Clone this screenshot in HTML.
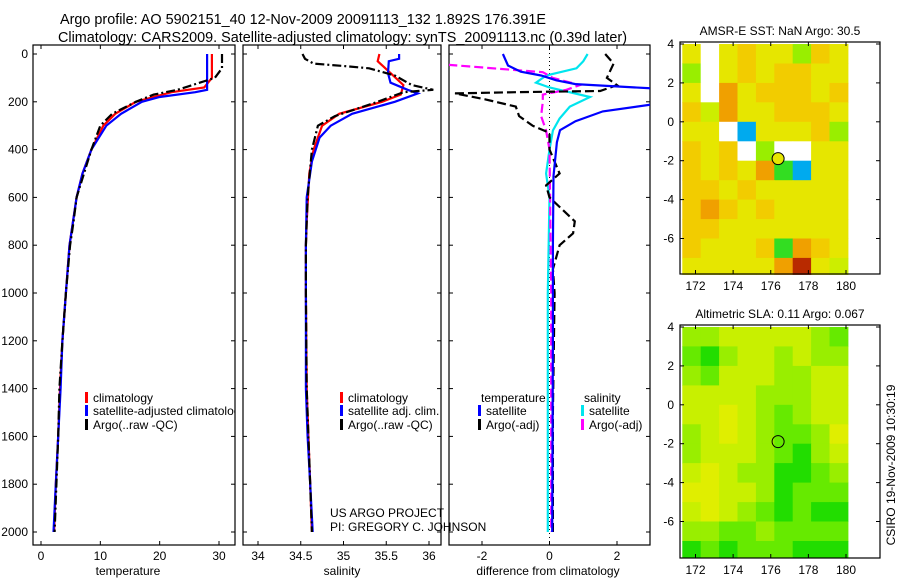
<!DOCTYPE html>
<html><head><meta charset="utf-8">
<style>
html,body{margin:0;padding:0;background:#fff;}
svg{display:block;font-family:"Liberation Sans",sans-serif;}
text{font-size:12px;fill:#000;}
text.ttl{font-size:14.4px;}
</style></head>
<body>
<svg id="fig" width="900" height="580" viewBox="0 0 900 580" xmlns="http://www.w3.org/2000/svg">
<defs>
<clipPath id="c1"><rect x="33" y="45" width="202" height="500"/></clipPath>
<clipPath id="c2"><rect x="243" y="45" width="198" height="500"/></clipPath>
<clipPath id="c3"><rect x="449" y="45" width="201" height="500"/></clipPath>
</defs>
<text class="ttl" x="60" y="24">Argo profile: AO 5902151_40 12-Nov-2009 20091113_132 1.892S 176.391E</text>
<text class="ttl" x="58" y="42">Climatology: CARS2009. Satellite-adjusted climatology: synTS_20091113.nc (0.39d later)</text>
<g id="g"></g>
<text x="0" y="0" transform="translate(895,465) rotate(-90)" text-anchor="middle">CSIRO 19-Nov-2009 10:30:19</text>
</svg>
<script>
// ---------- data ----------
const tDepth = [0,100,140,160,200,250,300,400,500,600,800,1000,1200,1400,1600,1800,2000];
const tClim  = [28.8,28.8,27.5,22,16,12.5,10.5,8.5,7,6,4.8,4.2,3.6,3.2,2.9,2.5,2.2];
const tSatDepth = [0,150,160,180,200,250,300,400,500,600,800,1000,1200,1400,1600,1800,2000];
const tSat   = [28,28,26,20,17,13.5,11,8.5,7,6,4.8,4.2,3.6,3.3,2.9,2.5,2.1];
const tArgoDepth = [0,60,100,150,170,200,250,300,400,600,700,800,1000,1200,1400,1600,1800,2000];
const tArgo  = [30.5,30.5,29.3,23,19,16,12,10,8.5,6,5.5,4.9,4.2,3.6,3.1,2.9,2.6,2.3];

const sDepth = [0,30,80,130,170,200,250,300,400,500,700,800,1000,1400,1600,1800,2000];
const sClim  = [35.42,35.4,35.55,35.7,35.67,35.45,34.95,34.75,34.65,34.6,34.57,34.56,34.56,34.57,34.59,34.61,34.63];
const sSatDepth = [0,20,30,80,120,150,165,200,250,300,350,450,600,800,1000,1400,1600,1800,2000];
const sSat   = [35.65,35.65,35.53,35.52,35.55,35.75,35.87,35.6,35.1,34.85,34.72,34.63,34.57,34.56,34.56,34.56,34.58,34.61,34.64];
const sArgoDepth = [0,20,40,50,60,90,130,150,160,200,260,300,400,600,800,1000,1400,1600,1800,2000];
const sArgo  = [34.52,34.55,34.65,35.0,35.3,35.6,35.8,36.05,35.7,35.4,34.9,34.7,34.63,34.58,34.56,34.56,34.57,34.59,34.61,34.63];

const dTSatDepth = [0,48,74,90,110,126,145,175,210,240,281,319,369,511,800,1200,2000];
const dTSat  = [-1.38,-1.23,-0.85,-0.25,0.2,0.77,3.2,4.5,3.1,1.58,0.77,0.31,0.22,0.12,0.1,0.1,0.08];
const dTArgoDepth = [0,40,100,130,155,160,165,190,220,260,300,330,400,500,550,600,700,750,800,850,900,1000,1500,2000];
const dTArgo = [1.65,1.9,1.7,2.0,1.5,-1.0,-2.8,-1.9,-1.0,-0.9,-0.5,0,0,0.3,-0.1,0,0.75,0.7,0.3,0.2,0.1,0.15,0.1,0.1];
const dSSatDepth = [0,30,60,90,120,140,180,220,270,320,400,500,600,1000,2000];
const dSSat  = [1.13,1.0,0.8,-0.1,-0.4,0,1.2,0.6,0.3,0.1,0,-0.1,0,-0.05,-0.05];
const dSArgoDepth = [45,76,100,130,150,170,200,260,320,400,1000,2000];
const dSArgo = [-3,-0.2,0.1,0.9,0.5,-0.2,-0.2,-0.25,-0.1,0,0.05,0.05];

const tTicks = [0,10,20,30];
const sTicks = [34,34.5,35,35.5,36];
const dTicks = [-2,0,2];
const depthTicks = [0,200,400,600,800,1000,1200,1400,1600,1800,2000];
const latTicks = [4,2,0,-2,-4,-6];
const lonTicks = [172,174,176,178,180];

// map grids: rows lat 4..-8 (1 deg), cols lon 171.3..180.1
const sstGrid = [
[4,0,4,5,4,4,2,5,4],[2,0,4,5,4,5,5,4,4],[4,0,6,4,5,5,5,4,5],[5,3,6,4,4,5,5,5,4],
[4,4,0,8,4,4,4,5,2],[5,4,5,0,2,0,0,4,4],[5,4,5,4,6,1,8,4,4],[5,5,4,5,4,4,4,4,4],
[5,6,5,4,5,4,4,4,4],[5,5,4,4,4,4,4,4,4],[5,4,4,4,5,1,6,5,4],[4,4,4,4,4,6,7,4,3]];
const slaGrid = [
[3,3,4,4,4,4,4,3,2],[2,1,3,4,4,3,4,3,3],[3,2,4,4,4,3,3,4,4],[4,4,4,4,3,3,3,4,4],
[4,4,5,4,3,2,3,4,4],[3,4,5,4,3,2,2,3,5],[3,4,4,4,3,2,1,3,4],[4,5,4,3,3,1,1,2,3],
[5,5,4,4,3,1,2,2,2],[4,5,4,3,2,1,2,1,1],[3,3,2,2,3,2,2,2,2],[1,2,1,2,2,2,1,1,1]];
const argoLon = [176.391];
const argoLat = [-1.892];

// ---------- drawing ----------
const NS="http://www.w3.org/2000/svg";
const G=document.getElementById('g');
function mk(tag,attrs,parent){const e=document.createElementNS(NS,tag);for(const k in attrs)e.setAttribute(k,attrs[k]);(parent||G).appendChild(e);return e;}
const Y0=54, YS=(532-54)/2000;
function yD(d){return Y0+d*YS;}
function lin(d0,d1,p0,p1){return v=>p0+(v-d0)*(p1-p0)/(d1-d0);}
const x1=lin(0,30,41,219), x2=lin(34,36,258,429), x3=lin(0,2,549.5,617);

function line(xs,ds,sx,color,dash,clip,name,w){
  const pts=xs.map((v,i)=>sx(v).toFixed(1)+','+yD(ds[i]).toFixed(1)).join(' ');
  const p=mk('polyline',{points:pts,fill:'none',stroke:color,'stroke-width':w||2.2,'clip-path':'url(#'+clip+')'});
  if(dash)p.setAttribute('stroke-dasharray',dash);
  
  
}
function axesBox(l,r,name){
  const b=mk('rect',{x:l,y:45,width:r-l,height:500,fill:'none',stroke:'#000','stroke-width':1.2});
  
  
}
function xTicks(ticks,sx,yb,yt){
  ticks.forEach(v=>{const x=sx(v);
    mk('line',{x1:x,x2:x,y1:yb,y2:yb-4,stroke:'#000'});mk('line',{x1:x,x2:x,y1:yt,y2:yt+4,stroke:'#000'});
    const t=mk('text',{x:x,y:yb+15,'text-anchor':'middle'});t.textContent=v;
    
    });
}
function yTicksD(l,r,labels){
  depthTicks.forEach(d=>{const y=yD(d);
    mk('line',{x1:l,x2:l+4,y1:y,y2:y,stroke:'#000'});mk('line',{x1:r,x2:r-4,y1:y,y2:y,stroke:'#000'});
    if(labels){const t=mk('text',{x:l-5,y:y+4,'text-anchor':'end'});t.textContent=d;
      
      }});
}
function label(x,y,s,name,anchor){const t=mk('text',{x:x,y:y,'text-anchor':anchor||'start'});t.textContent=s;
  
  return t;}
function legend(x,y,color,s,name,clip){
  const g=mk('g',clip?{'clip-path':'url(#'+clip+')'}:{});
  mk('rect',{x:x,y:y-6,width:3,height:11,fill:color},g);
  const t=mk('text',{x:x+8,y:y+4},g);t.textContent=s;
  
  
}

// panel 1
axesBox(33,235,'temperature-axes');
xTicks(tTicks,x1,545,45); yTicksD(33,235,true);
line(tClim,tDepth,x1,'#ff0000',null,'c1','temperature-climatology-line');
line(tSat,tSatDepth,x1,'#0000ff',null,'c1','temperature-satellite-line');
line(tArgo,tArgoDepth,x1,'#000000','9,3,2,3','c1','temperature-argo-line');
label(128,575,'temperature','x-axis-title-temperature','middle');
legend(85,398,'#ff0000','climatology','legend-climatology','c1');
legend(85,411,'#0000ff','satellite-adjusted climatology','legend-satellite-adjusted','c1');
legend(85,425,'#000000','Argo(..raw -QC)','legend-argo','c1');

// panel 2
axesBox(243,441,'salinity-axes');
xTicks(sTicks,x2,545,45); yTicksD(243,441,false);
line(sClim,sDepth,x2,'#ff0000',null,'c2','salinity-climatology-line');
line(sSat,sSatDepth,x2,'#0000ff',null,'c2','salinity-satellite-line');
line(sArgo,sArgoDepth,x2,'#000000','9,3,2,3','c2','salinity-argo-line');
label(342,575,'salinity','x-axis-title-salinity','middle');
legend(340,398,'#ff0000','climatology','legend-sal-climatology');
legend(340,411,'#0000ff','satellite adj. clim.','legend-sal-satellite');
legend(340,425,'#000000','Argo(..raw -QC)','legend-sal-argo');
label(330,517,'US ARGO PROJECT','project-label');
label(330,531,'PI: GREGORY C. JOHNSON','pi-label');

// panel 3
axesBox(449,650,'difference-axes');
xTicks(dTicks,x3,545,45); yTicksD(449,650,false);
const zl=mk('line',{x1:x3(0),x2:x3(0),y1:45,y2:545,stroke:'#000','stroke-dasharray':'1,3'});


line(dSSat,dSSatDepth,x3,'#00e5ee',null,'c3','salinity-satellite-diff-line');
line(dSArgo,dSArgoDepth,x3,'#ff00ff','9,4','c3','salinity-argo-diff-line');
line(dTArgo,dTArgoDepth,x3,'#000000','9,4','c3','temperature-argo-diff-line');
line(dTSat,dTSatDepth,x3,'#0000ff',null,'c3','temperature-satellite-diff-line');
label(548,575,'difference from climatology','x-axis-title-difference','middle');
label(481,402,'temperature','legend-title-temperature');
label(584,402,'salinity','legend-title-salinity');
legend(478,411,'#0000ff','satellite','legend-diff-temp-satellite');
legend(478,425,'#000000','Argo(-adj)','legend-diff-temp-argo');
legend(581,411,'#00e5ee','satellite','legend-diff-sal-satellite');
legend(581,425,'#ff00ff','Argo(-adj)','legend-diff-sal-argo');

// maps
const sstCols=['#ffffff','#33dd22','#99ee00','#ccee00','#e6e600','#f2cc00','#f0a000','#b82a00','#00aaee'];
const slaCols=['#ffffff','#22dd00','#66ea00','#99ee00','#c8f000','#e0ee00'];
function map(top,bottom,grid,cols,title,name,fillCircle){
  const L=680,R=880, lonx=lin(172,180,695.5,846), laty=lin(4,-6,top+2,top+2+194.5);
  const g=mk('g',{});
  
  
  const lon0=171.3, dlon=(180.1-171.3)/9;
  grid.forEach((row,r)=>row.forEach((v,c)=>{
    const xa=lonx(lon0+c*dlon), xb=lonx(lon0+(c+1)*dlon), ya=laty(4-r), yb=Math.min(laty(3-r),laty(-7.85));
    const cell=mk('rect',{x:xa.toFixed(1),y:ya.toFixed(1),width:(xb-xa+0.5).toFixed(1),height:(yb-ya+0.5).toFixed(1),fill:cols[v]},g);
    
    
  }));
  mk('rect',{x:L,y:top,width:R-L,height:bottom-top,fill:'none',stroke:'#000','stroke-width':1.2},g);
  latTicks.forEach(v=>{const y=laty(v);mk('line',{x1:L,x2:L+4,y1:y,y2:y,stroke:'#000'},g);mk('line',{x1:R,x2:R-4,y1:y,y2:y,stroke:'#000'},g);
    const t=mk('text',{x:L-6,y:y+4,'text-anchor':'end'},g);t.textContent=v;
    
    });
  lonTicks.forEach(v=>{const x=lonx(v);mk('line',{x1:x,x2:x,y1:bottom,y2:bottom-4,stroke:'#000'},g);mk('line',{x1:x,x2:x,y1:top,y2:top+4,stroke:'#000'},g);
    const t=mk('text',{x:x,y:bottom+16,'text-anchor':'middle'},g);t.textContent=v;
    
    });
  const tt=mk('text',{x:780,y:top-7,'text-anchor':'middle'},g);tt.textContent=title;
  
  
  argoLon.forEach((lo,i)=>{const c=mk('circle',{cx:lonx(lo),cy:laty(argoLat[i]),r:6,fill:fillCircle,stroke:'#000','stroke-width':1},g);
    
    });
}
map(42,274,sstGrid,sstCols,'AMSR-E SST: NaN Argo: 30.5','sst-map','#e6e600');
map(325,558,slaGrid,slaCols,'Altimetric SLA: 0.11 Argo: 0.067','sla-map','none');
</script>
</body></html>
